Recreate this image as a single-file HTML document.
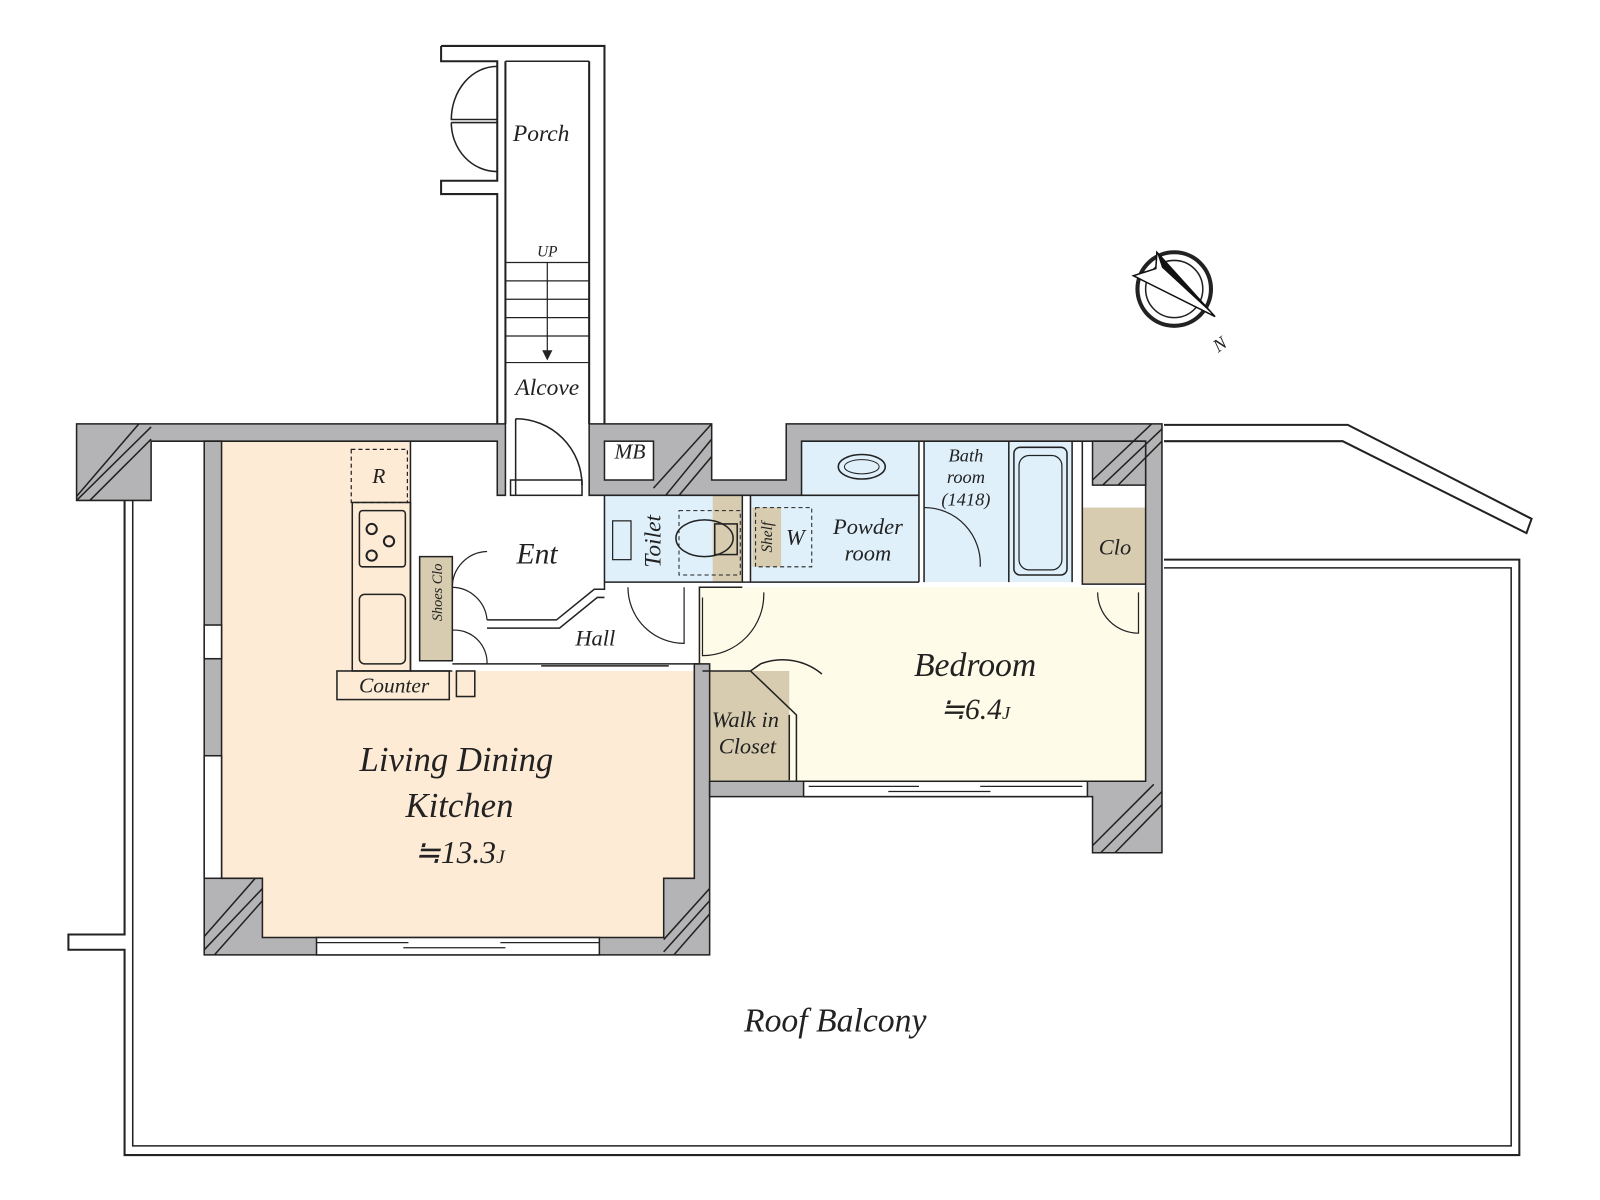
<!DOCTYPE html>
<html><head><meta charset="utf-8"><style>
html,body{margin:0;padding:0;background:#fff;width:1600px;height:1200px;overflow:hidden}
svg{display:block}
text{font-family:"Liberation Serif",serif;font-style:italic;fill:#222}
</style></head><body>
<svg width="1600" height="1200" viewBox="0 0 1567 1175" preserveAspectRatio="none" xmlns="http://www.w3.org/2000/svg">
<g fill="none" stroke="#222" stroke-width="2">
<path d="M122 490 V915 H67 V930 H122 V1131 H1488 V548 H1140"/>
<path d="M130 490 V1122 H1480 V556 H1140" stroke-width="1.5"/>
<path d="M1140 416 H1320 L1500 508 L1495 522 L1315 432 H1140" />
</g>
<path d="M217 432 H402 V657 H680 V918 H257 V860 H217Z" fill="#fdebd6"/>
<rect x="685" y="575" width="437" height="190" fill="#fefbe8"/>
<rect x="592" y="485" width="135" height="85" fill="#dff0fb"/>
<rect x="735" y="485" width="165" height="85" fill="#dff0fb"/>
<rect x="785" y="432" width="115" height="55" fill="#dff0fb"/>
<rect x="905" y="432" width="145" height="138" fill="#dff0fb"/>
<rect x="698" y="485" width="28" height="85" fill="#d8ccb0"/>
<rect x="737" y="497" width="28" height="58" fill="#d8ccb0"/>
<rect x="411" y="545" width="32" height="102" fill="#d8ccb0"/>
<rect x="688" y="657" width="85" height="107" fill="#d8ccb0"/>
<rect x="1060" y="497" width="62" height="75" fill="#d8ccb0"/>
<g fill="#b4b4b6" stroke="#222" stroke-width="1.5">
<path d="M75 415 H495 V485 H487 V432 H148 V490 H75 Z"/>
<path d="M200 432 H217 V860 H257 V918 H650 V860 H680 V650 H695 V935 H200 Z"/>
<path d="M577 415 H697 V470 H770 V415 H1138 V835 H1070 V780 H695 V765 H1122 V432 H785 V485 H577Z"/>
<path d="M1070 432 H1122 V475 H1070 Z"/>
</g>
<g stroke="#222" stroke-width="1.5" fill="none">
<path d="M75 486 L136 415 M75 490 L148 418 M88 490 L148 430"/>
<path d="M200 917 L250 860 M200 930 L257 870 M210 935 L257 882"/>
<path d="M650 920 L695 870 M650 932 L695 882 M660 935 L695 895"/>
<path d="M640 478 L697 415 M652 485 L697 430 M665 485 L697 447"/>
<path d="M1070 470 L1128 415 M1080 475 L1138 420 M1095 475 L1138 432"/>
<path d="M1070 828 L1130 768 M1078 835 L1138 775 M1092 835 L1138 788"/>
</g>
<g fill="#fff" stroke="#222" stroke-width="1.5">
<rect x="592" y="432" width="48" height="38"/>
<rect x="310" y="918" width="277" height="17"/>
<rect x="787" y="765" width="278" height="15"/>
<rect x="200" y="612" width="17" height="33"/>
<rect x="200" y="740" width="17" height="120"/>
<rect x="500" y="470" width="70" height="15"/>
</g>
<g stroke="#222" fill="none" stroke-width="1.2">
<path d="M792 770 H900 M870 775 H970 M960 770 H1060 M310 923 H400 M395 928 H495 M490 923 H587"/>
</g>
<g fill="none" stroke="#222" stroke-width="2">
<path d="M432 45 H592 V415 M577 60 V415 M432 45 V60 H487 V177 H432 V190 H487 V415 M495 60 V415"/>
<path d="M495 60 H577" stroke-width="1.5"/>
<path d="M495 257 H577 M495 275 H577 M495 293 H577 M495 311 H577 M495 329 H577 M495 355 H577" stroke-width="1.2"/>
<path d="M536 257 V350" stroke-width="1.2"/>
<path d="M487 65 A45 52 0 0 0 442 117 H487 M442 120 H487 M442 120 A45 48 0 0 0 487 168" stroke-width="1.5"/>
<path d="M505 410 V485 M505 410 A65 65 0 0 1 570 475" stroke-width="1.5"/>
<path d="M402 432 V657 H443 M411 545 V647 H443 V545 Z" stroke-width="1.5"/>
<path d="M477 607 H545 L582 577 H592 V485 M477 615 H548 L585 585 H592" stroke-width="1.5"/>
<path d="M443 575 A35 35 0 0 1 477 540 M443 575 A35 35 0 0 1 477 607 M443 617 A32 32 0 0 1 477 650" stroke-width="1.2"/>
<path d="M443 650 H685 V575 H727 M530 652 H655" stroke-width="1.5"/>
<path d="M592 570 H900 M727 485 V570 M735 485 V570 M900 432 V570 M905 432 V570 M988 432 V570 M1050 432 V570 M1060 432 V572 H1122 M785 485 H900" stroke-width="1.5"/>
<path d="M615 575 A55 55 0 0 0 670 630 V575 M748 580 A60 60 0 0 1 688 642 V585 M905 497 A55 55 0 0 1 960 555 M1075 580 A40 40 0 0 0 1115 620 V580" stroke-width="1.2"/>
<path d="M688 657 H735 L780 700 V765 M773 700 V764 M735 657 L745 650 A60 60 0 0 1 805 660" stroke-width="1.5"/>
<rect x="345" y="492" width="57" height="165" stroke-width="1.5"/>
<rect x="344" y="440" width="55" height="52" stroke-dasharray="4 3" stroke-width="1.2"/>
<rect x="352" y="500" width="45" height="55" rx="3" stroke-width="1.5"/>
<circle cx="364" cy="518" r="5"/><circle cx="381" cy="530" r="5"/><circle cx="364" cy="544" r="5"/>
<rect x="352" y="582" width="45" height="68" rx="5" stroke-width="1.5"/>
<rect x="330" y="657" width="110" height="28" stroke-width="1.5"/>
<rect x="447" y="657" width="18" height="25" stroke-width="1.5"/>
<ellipse cx="690" cy="527" rx="28" ry="18" stroke-width="1.5"/>
<rect x="700" y="513" width="22" height="30" stroke-width="1.5"/>
<rect x="600" y="510" width="18" height="38" stroke-width="1.2"/>
<rect x="665" y="500" width="60" height="63" stroke-dasharray="4 3" stroke-width="1"/>
<rect x="740" y="497" width="55" height="58" stroke-dasharray="4 3" stroke-width="1"/>
<ellipse cx="844" cy="457" rx="23" ry="12" stroke-width="1.5"/>
<ellipse cx="844" cy="457" rx="17" ry="7" stroke-width="1"/>
<rect x="993" y="438" width="52" height="125" rx="6" stroke-width="1.5"/>
<rect x="998" y="446" width="42" height="112" rx="10" stroke-width="1.2"/>
<circle cx="1150" cy="283" r="36" stroke-width="4"/>
<circle cx="1150" cy="283" r="28" stroke-width="1.5"/>
</g>
<path d="M1133 247 L1190 310 L1110 270 L1132 263Z" fill="#fff" stroke="#111" stroke-width="1.5"/>
<path d="M1133 247 L1190 310 L1138 262Z" fill="#111"/>
<path d="M531 343 L536 353 L541 343Z" fill="#222"/>
<text x="530" y="138" font-size="23" text-anchor="middle">Porch</text>
<text x="536" y="251" font-size="15" text-anchor="middle">UP</text>
<text x="536" y="387" font-size="23" text-anchor="middle">Alcove</text>
<text x="617" y="449" font-size="21" text-anchor="middle">MB</text>
<text x="371" y="473" font-size="21" text-anchor="middle">R</text>
<text x="526" y="552" font-size="29" text-anchor="middle">Ent</text>
<text x="583" y="632" font-size="22" text-anchor="middle">Hall</text>
<text x="386" y="678" font-size="21" text-anchor="middle">Counter</text>
<text transform="translate(433,580) rotate(-90)" font-size="14" text-anchor="middle">Shoes Clo</text>
<text transform="translate(647,530) rotate(-90)" font-size="23" text-anchor="middle">Toilet</text>
<text transform="translate(756,526) rotate(-90)" font-size="15" text-anchor="middle">Shelf</text>
<text x="779" y="533" font-size="22" text-anchor="middle">W</text>
<text x="850" y="523" font-size="22" text-anchor="middle">Powder</text>
<text x="850" y="549" font-size="22" text-anchor="middle">room</text>
<text x="946" y="452" font-size="18" text-anchor="middle">Bath</text>
<text x="946" y="473" font-size="18" text-anchor="middle">room</text>
<text x="946" y="495" font-size="18" text-anchor="middle">(1418)</text>
<text x="1092" y="543" font-size="22" text-anchor="middle">Clo</text>
<text x="955" y="662" font-size="33" text-anchor="middle">Bedroom</text>
<text x="955" y="704" font-size="29" text-anchor="middle">≒6.4<tspan font-size="18">J</tspan></text>
<text x="730" y="712" font-size="22" text-anchor="middle">Walk in</text>
<text x="732" y="738" font-size="22" text-anchor="middle">Closet</text>
<text x="447" y="755" font-size="34" text-anchor="middle">Living Dining</text>
<text x="450" y="800" font-size="34" text-anchor="middle">Kitchen</text>
<text x="450" y="845" font-size="31" text-anchor="middle">≒13.3<tspan font-size="19">J</tspan></text>
<text x="818" y="1010" font-size="33" text-anchor="middle">Roof Balcony</text>
<text transform="translate(1198,342) rotate(-35)" font-size="18" text-anchor="middle">N</text>
</svg>
</body></html>
